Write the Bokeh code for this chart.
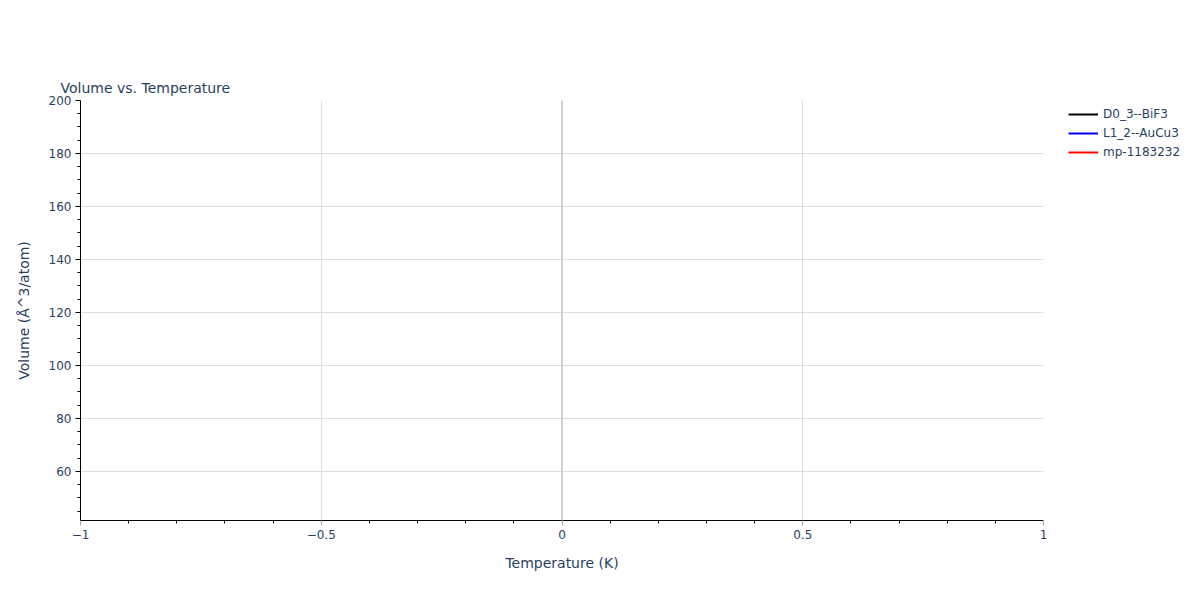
from bokeh.plotting import figure
from bokeh.models import Range1d, FixedTicker, CustomJSTickFormatter, Legend, LegendItem, Span, Title
from bokeh.embed import file_html
from bokeh.resources import INLINE

# each structure only has a single point at T = 0, so no line is drawn
series_names = ["D0_3--BiF3", "L1_2--AuCu3", "mp-1183232"]
series_colors = ["black", "blue", "red"]
temperatures = [[0], [0], [0]]
volumes = [[52.0], [48.0], [190.0]]

x_ticks = [-1, -0.5, 0, 0.5, 1]
x_minor = [-0.9, -0.8, -0.7, -0.6, -0.4, -0.3, -0.2, -0.1,
           0.1, 0.2, 0.3, 0.4, 0.6, 0.7, 0.8, 0.9]
y_ticks = [60, 80, 100, 120, 140, 160, 180, 200]
y_minor = [45, 50, 55, 65, 70, 75, 85, 90, 95, 105, 110, 115, 125, 130, 135,
           145, 150, 155, 165, 170, 175, 185, 190, 195]

FONT = "DejaVu Sans"
TXT = "#2a3f5f"

p = figure(output_backend="svg",
           toolbar_location=None,
           x_range=Range1d(-1, 1),
           y_range=Range1d(41.5, 200),
           title=" ",
           min_border_left=80, min_border_right=157,
           min_border_top=100, min_border_bottom=80)
p.frame_width = 963
p.frame_height = 420

# the built-in title sits next to the frame: use it as an empty spacer
p.title.text_font_size = "1px"
p.title.text_alpha = 0
p.title.standoff = 40

# real title goes outside the spacer
main_title = Title(text="Volume vs. Temperature", text_font=FONT,
                   text_font_size="14px", text_font_style="normal",
                   text_color=TXT, offset=-20, standoff=10)
p.add_layout(main_title, "above")

p.outline_line_color = None

items = []
for name, col, xs, ys in zip(series_names, series_colors, temperatures, volumes):
    r = p.line(xs, ys, color=col, line_width=2)
    items.append(LegendItem(label=name, renderers=[r]))

legend = Legend(items=items, location=(25, 360),
                label_text_font=FONT, label_text_font_size="12px",
                label_text_color=TXT, glyph_width=30, glyph_height=16,
                spacing=3, padding=2, margin=0,
                background_fill_alpha=0, border_line_color=None,
                label_standoff=5)
p.add_layout(legend, "right")

# axes
p.xaxis.ticker = FixedTicker(ticks=x_ticks, minor_ticks=x_minor)
p.yaxis.ticker = FixedTicker(ticks=y_ticks, minor_ticks=y_minor)
p.xaxis.formatter = CustomJSTickFormatter(code="""
    return tick < 0 ? "\u2212" + Math.abs(tick) : String(tick);
""")
p.xaxis.axis_label = "Temperature (K)"
p.yaxis.axis_label = "Volume (Å^3/atom)"
for ax in [p.xaxis[0], p.yaxis[0]]:
    ax.axis_line_color = "black"
    ax.axis_line_width = 1
    ax.major_tick_line_color = "black"
    ax.minor_tick_line_color = "black"
    ax.major_tick_out = 5
    ax.major_tick_in = 0
    ax.minor_tick_out = 3
    ax.minor_tick_in = 0
    ax.major_label_text_font = FONT
    ax.major_label_text_font_size = "12px"
    ax.major_label_text_color = TXT
    ax.axis_label_text_font = FONT
    ax.axis_label_text_font_size = "14px"
    ax.axis_label_text_font_style = "normal"
    ax.axis_label_text_color = TXT
p.xaxis.major_tick_line_color = "#aaaaaa"
p.xaxis.major_label_standoff = 4
p.xaxis.axis_label_standoff = 13
p.yaxis.major_label_standoff = 4
p.yaxis.axis_label_standoff = 14

p.xgrid.grid_line_color = "#dddddd"
p.ygrid.grid_line_color = "#dddddd"
p.xgrid.ticker = FixedTicker(ticks=[-0.5, 0.5])
p.ygrid.ticker = FixedTicker(ticks=y_ticks[:-1])

zero = Span(location=0, dimension="height", line_color="#d0d0d0", line_width=2)
p.add_layout(zero)

open("out.html", "w").write(file_html(p, INLINE))
